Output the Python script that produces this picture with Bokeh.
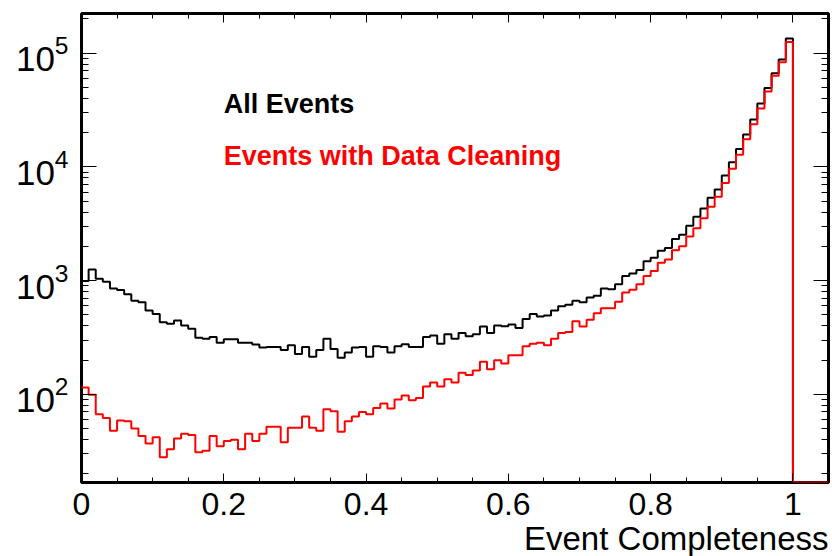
import numpy as np
from bokeh.plotting import figure
from bokeh.models import (Range1d, FixedTicker, LinearAxis, LogTickFormatter, Label, Title)
from bokeh.embed import file_html
from bokeh.resources import INLINE

# ---------------- data ----------------
x_lo, x_hi = 0.0, 1.05
all_events = [994, 1253, 1040, 979, 851, 829, 760, 665, 644, 545,
              509, 431, 417, 447, 403, 377, 315, 309, 319, 285,
              305, 305, 285, 285, 274, 258, 261, 261, 245, 271,
              226, 261, 214, 245, 309, 250, 210, 233, 258, 261,
              214, 265, 261, 233, 265, 276, 261, 261, 319, 330,
              279, 337, 309, 346, 324, 337, 396, 346, 403, 398,
              412, 383, 461, 509, 483, 493, 545, 594, 615, 666,
              644, 712, 736, 851, 840, 929, 1097, 1158, 1238, 1483,
              1585, 1835, 1936, 2318, 2529, 3030, 3650, 4312, 5345, 6310,
              8409, 10990, 14360, 19250, 26100, 36000, 49300, 66500, 88100, 134300,
              0, 0, 0, 0, 0]
cleaned_events = [115, 99, 67, 62, 48, 59, 58, 50, 43, 37,
                  42, 28, 33, 41, 45, 44, 31, 32, 43, 35,
                  39, 40, 33, 45, 39, 45, 52, 52, 38, 51,
                  51, 64, 51, 48, 74, 71, 47, 58, 64, 70,
                  67, 76, 83, 75, 90, 98, 89, 93, 117, 127,
                  117, 136, 127, 155, 148, 162, 194, 166, 200, 187,
                  221, 221, 265, 279, 285, 271, 309, 346, 353, 440,
                  396, 452, 516, 571, 571, 653, 787, 830, 929, 1097,
                  1213, 1435, 1535, 1850, 2005, 2447, 2891, 3532, 4463, 5449,
                  7208, 9611, 12800, 17500, 23650, 32600, 46100, 63100, 83000, 125400,
                  0, 0, 0, 0, 0]
x_major = [0.0, 0.2, 0.4, 0.6, 0.8, 1.0]
x_labels = ["0", "0.2", "0.4", "0.6", "0.8", "1"]
y_major = [1e2, 1e3, 1e4, 1e5]
y_lo, y_hi = 16.8, 2.23e5
label_all = "All Events"
label_clean = "Events with Data Cleaning"
x_title = "Event Completeness"

FONT = "Liberation Sans"

# ---------------- figure ----------------
p = figure(width=832, height=556, y_axis_type="log",
           x_range=Range1d(x_lo, x_hi), y_range=Range1d(y_lo, y_hi),
           output_backend="svg", toolbar_location=None,
           min_border_left=81, min_border_right=4, min_border_top=13, min_border_bottom=0)
p.xgrid.visible = False
p.ygrid.visible = False
p.outline_line_color = "black"
p.outline_line_width = 3
p.outline_line_alpha = 1.0
p.background_fill_color = "white"
p.border_fill_color = "white"


def step_xy(counts):
    counts = np.asarray(counts, dtype=float)
    n = len(counts)
    edges = np.linspace(x_lo, x_hi, n + 1)
    shown = np.maximum(counts, y_lo)
    xs = np.repeat(edges, 2)[1:-1]
    ys = np.repeat(shown, 2)
    return xs, ys


xb, yb = step_xy(all_events)
xr, yr = step_xy(cleaned_events)
p.line(x=xb, y=yb, line_color="black", line_width=2)
p.line(x=xr, y=yr, line_color="#ff0000", line_width=2)

# ---------------- axes ----------------
x_minor = list(np.round(np.arange(0, 21 + 1) * 0.05, 4))
y_minor = [m * 10.0 ** e for e in range(1, 6) for m in range(2, 10)]
xticker = FixedTicker(ticks=x_major, minor_ticks=x_minor)
yticker = FixedTicker(ticks=y_major, minor_ticks=y_minor)


def style_axis(ax, major_len, minor_len):
    ax.axis_line_color = None
    ax.major_tick_in = major_len
    ax.major_tick_out = 0
    ax.minor_tick_in = minor_len
    ax.minor_tick_out = 0
    ax.major_tick_line_color = "black"
    ax.minor_tick_line_color = "black"
    ax.major_tick_line_width = 1
    ax.minor_tick_line_width = 1


xa = p.xaxis[0]
xa.ticker = xticker
xa.major_label_overrides = {v: s for v, s in zip(x_major, x_labels)}
xa.major_label_text_font = FONT
xa.major_label_text_font_size = "32px"
xa.major_label_text_color = "black"
xa.major_label_standoff = 10
style_axis(xa, 9, 5)

ya = p.yaxis[0]
ya.ticker = yticker
ya.formatter = LogTickFormatter()
ya.major_label_text_font = FONT
ya.major_label_text_font_size = "35px"
ya.major_label_text_color = "black"
ya.major_label_standoff = 13
style_axis(ya, 15, 7)

top = LinearAxis(ticker=xticker, major_label_text_font_size="1px", major_label_standoff=0,
                 major_label_overrides={v: "" for v in x_major})
style_axis(top, 9, 5)
p.add_layout(top, "above")

right = LinearAxis(ticker=yticker, major_label_text_font_size="1px", major_label_standoff=0,
                   major_label_overrides={v: "" for v in y_major})
style_axis(right, 15, 7)
p.add_layout(right, "right")

# x-axis title, right-aligned under the frame
p.add_layout(Title(text=x_title, align="right", text_font=FONT, text_font_size="33px",
                   text_font_style="normal", text_color="black", standoff=0, offset=0),
             "below")

# ---------------- texts ----------------
p.add_layout(Label(x=0.2, y=3.6e4, text=label_all, text_font=FONT, text_font_style="bold",
                   text_font_size="27px", text_color="black", text_baseline="alphabetic"))
p.add_layout(Label(x=0.2, y=1.25e4, text=label_clean, text_font=FONT, text_font_style="bold",
                   text_font_size="27px", text_color="#ff0000", text_baseline="alphabetic"))

open("out.html", "w").write(file_html(p, INLINE))
